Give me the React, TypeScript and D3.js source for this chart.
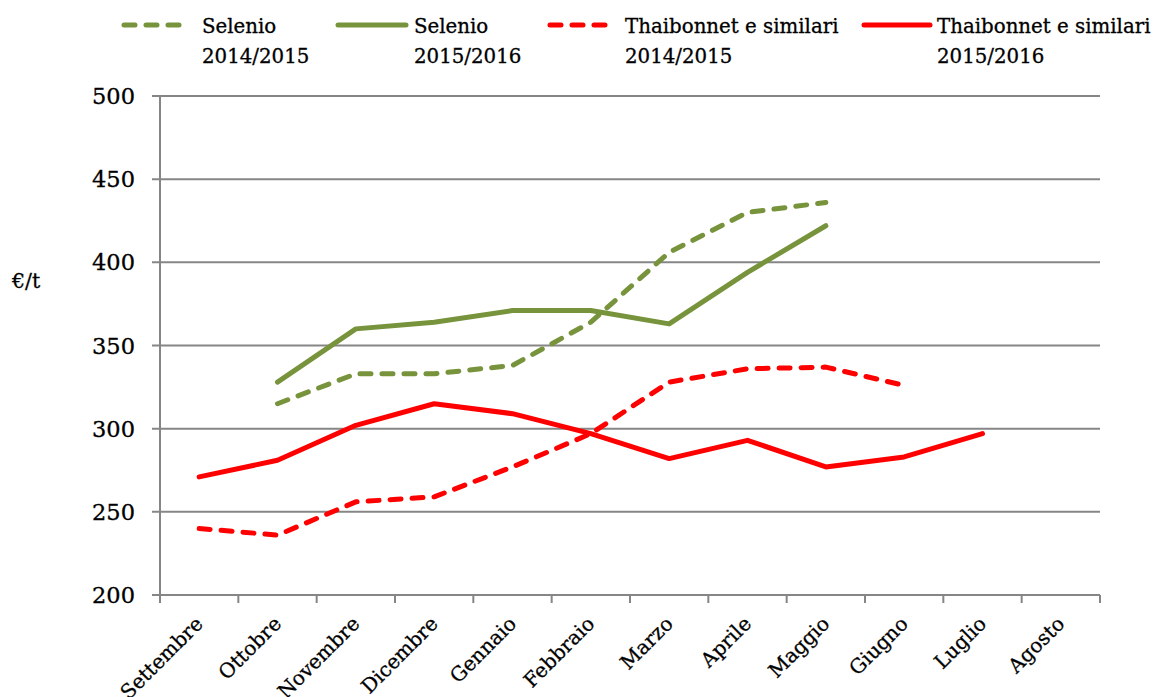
import React from "react";
import * as d3 from "d3";

const months = ["Settembre","Ottobre","Novembre","Dicembre","Gennaio","Febbraio","Marzo","Aprile","Maggio","Giugno","Luglio","Agosto"];
const selenio1415: (number|null)[] = [null, 315, 333, 333, 338, 364, 406, 430, 436, null, null, null];
const selenio1516: (number|null)[] = [null, 328, 360, 364, 371, 371, 363, 394, 422, null, null, null];
const thai1415: (number|null)[] = [240, 236, 256, 259, 277, 297, 328, 336, 337, 326, null, null];
const thai1516: (number|null)[] = [271, 281, 302, 315, 309, 297, 282, 293, 277, 283, 297, null];
const yTicks = [200, 250, 300, 350, 400, 450, 500];

const GREEN = "#77933C";
const RED = "#FF0000";
const GRID = "#868686";
const FONT = "'DejaVu Serif', serif";

const series = [
  { name: ["Selenio", "2014/2015"], values: selenio1415, color: GREEN, dashed: true },
  { name: ["Selenio", "2015/2016"], values: selenio1516, color: GREEN, dashed: false },
  { name: ["Thaibonnet e similari", "2014/2015"], values: thai1415, color: RED, dashed: true },
  { name: ["Thaibonnet e similari", "2015/2016"], values: thai1516, color: RED, dashed: false },
];

const legendPos = [
  { x1: 124, x2: 188, tx: 202 },
  { x1: 338, x2: 406, tx: 414 },
  { x1: 550, x2: 612, tx: 625 },
  { x1: 864, x2: 930, tx: 937 },
];

const textStyle = { stroke: "#000", strokeWidth: 0.3 } as const;

export default function App() {
  const W = 1157, H = 697;
  const left = 160, right = 1100, top = 96, bottom = 595;
  const x = d3.scaleBand<string>().domain(months).range([left, right]).padding(0);
  const y = d3.scaleLinear().domain([200, 500]).range([bottom, top]);
  const cx = (m: string) => (x(m) as number) + x.bandwidth() / 2;

  const lineGen = d3.line<number | null>()
    .defined((d) => d != null)
    .x((_, i) => cx(months[i]))
    .y((d) => y(d as number));

  const boundaries = months.map((m) => x(m) as number).concat([right]);

  return (
    <svg width={W} height={H} style={{ position: "absolute", left: 0, top: 0, background: "#fff" }} fontFamily={FONT}>
      {yTicks.map((t) => (
        <line key={t} x1={152} x2={right} y1={y(t)} y2={y(t)} stroke={GRID} strokeWidth={2} />
      ))}
      <line x1={left} x2={left} y1={top} y2={bottom} stroke={GRID} strokeWidth={2} />
      {boundaries.map((b, i) => (
        <line key={i} x1={b} x2={b} y1={bottom} y2={bottom + 8} stroke={GRID} strokeWidth={2} />
      ))}
      {yTicks.map((t) => (
        <text key={t} x={135} y={y(t)} dy="0.36em" textAnchor="end" fontSize={22.5} fill="#000" style={textStyle}>{t}</text>
      ))}
      <text x={12} y={288} fontSize={20.5} fill="#000" style={textStyle}>€/t</text>
      {months.map((m) => (
        <text key={m} transform={`translate(${cx(m) + 5},${bottom + 30}) rotate(-45)`} textAnchor="end" fontSize={20} fill="#000" style={textStyle}>{m}</text>
      ))}
      {series.map((s, i) => (
        <path key={i} d={lineGen(s.values) || ""} fill="none" stroke={s.color} strokeWidth={5}
          strokeDasharray={s.dashed ? "11 11" : undefined} strokeLinecap="round" strokeLinejoin="round" />
      ))}
      {series.map((s, i) => {
        const p = legendPos[i];
        return (
          <g key={i}>
            <line x1={p.x1} x2={p.x2} y1={25} y2={25} stroke={s.color} strokeWidth={5}
              strokeDasharray={s.dashed ? "11 11" : undefined} strokeLinecap="round" />
            <text x={p.tx} y={33} fontSize={19.8} fill="#000" style={textStyle}>{s.name[0]}</text>
            <text x={p.tx} y={63} fontSize={19.8} fill="#000" style={textStyle}>{s.name[1]}</text>
          </g>
        );
      })}
    </svg>
  );
}
